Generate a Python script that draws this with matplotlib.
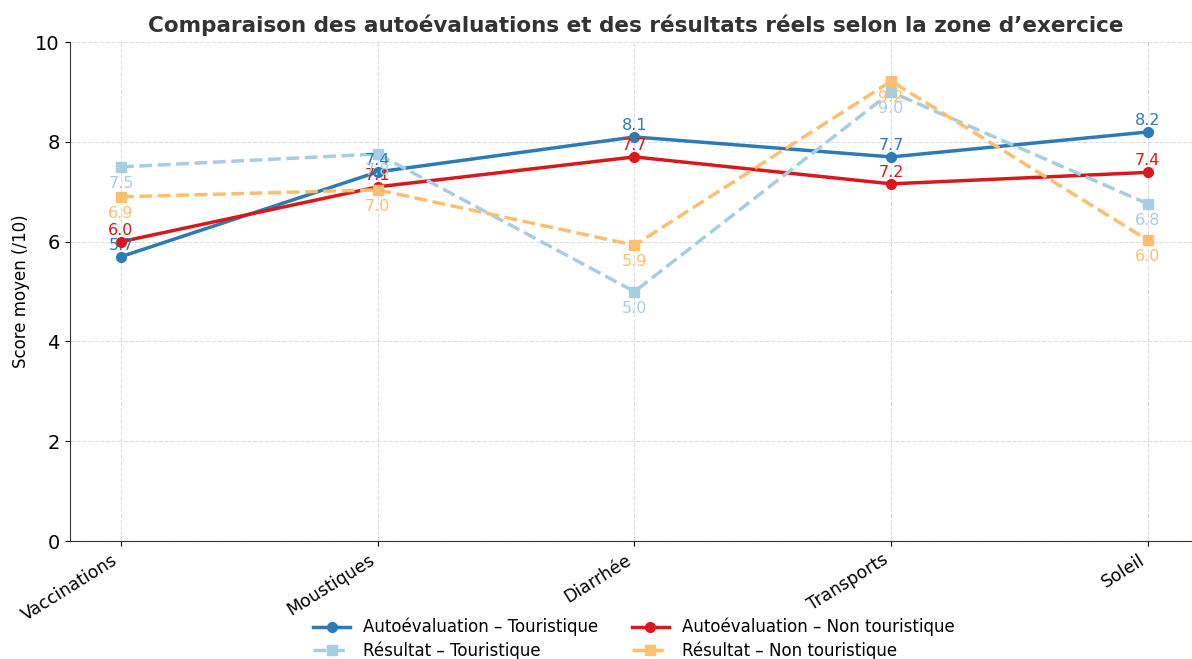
import matplotlib.pyplot as plt
import numpy as np

categories = ["Vaccinations", "Moustiques", "Diarrhée", "Transports", "Soleil"]
auto_tour = [5.7, 7.4, 8.1, 7.7, 8.2]
auto_non = [6.0, 7.1, 7.7, 7.16, 7.39]
res_tour = [7.5, 7.76, 5.0, 9.0, 6.76]
res_non = [6.9, 7.04, 5.93, 9.22, 6.03]

C_AT = '#2c7bb6'
C_AN = '#d7191c'
C_RT = '#a6cee3'
C_RN = '#fdbf6f'

fig = plt.figure(figsize=(11.92, 6.59), dpi=100)
ax = fig.add_axes([0.0584, 0.179, 0.9477, 0.757])

x = np.arange(len(categories))
series = [
    (auto_tour, C_AT, '-', 'o', "Autoévaluation – Touristique", 3),
    (auto_non, C_AN, '-', 'o', "Autoévaluation – Non touristique", 3),
    (res_tour, C_RT, '--', 's', "Résultat – Touristique", -6.5),
    (res_non, C_RN, '--', 's', "Résultat – Non touristique", -6.5),
]
handles = []
for vals, c, ls, m, lab, off in series:
    h, = ax.plot(x, vals, color=c, linestyle=ls, marker=m, markersize=7,
                 linewidth=2.5, label=lab)
    handles.append(h)
    for xi, v in zip(x, vals):
        ax.annotate(f"{v:.1f}", (xi, v), xytext=(0, off), textcoords='offset points',
                    ha='center', va='bottom' if off > 0 else 'top', color=c, fontsize=11.5)

ax.set_ylim(0, 10)
ax.set_xticks(x)
ax.set_xticklabels(categories, rotation=32, ha='right', fontsize=12.5)
ax.tick_params(axis='y', labelsize=14)
ax.set_ylabel("Score moyen (/10)", fontsize=12)
ax.grid(True, linestyle='--', color='#dddddd', linewidth=0.8)
ax.set_axisbelow(True)
ax.spines['right'].set_visible(False)
ax.spines['top'].set_visible(False)
for s in ['left', 'bottom']:
    ax.spines[s].set_color('#333333')
fig.text(0.533, 0.962, "Comparaison des autoévaluations et des résultats réels selon la zone d’exercice",
         fontsize=15.5, fontweight='bold', color='#333333', ha='center', va='center')

order = [handles[0], handles[2], handles[1], handles[3]]
fig.legend(order, [h.get_label() for h in order], ncol=2, frameon=False, fontsize=12,
           loc='upper center', bbox_to_anchor=(0.532, 0.085), columnspacing=2.0,
           handlelength=2.2, labelspacing=0.3)

fig.savefig("out.png", dpi=100)
